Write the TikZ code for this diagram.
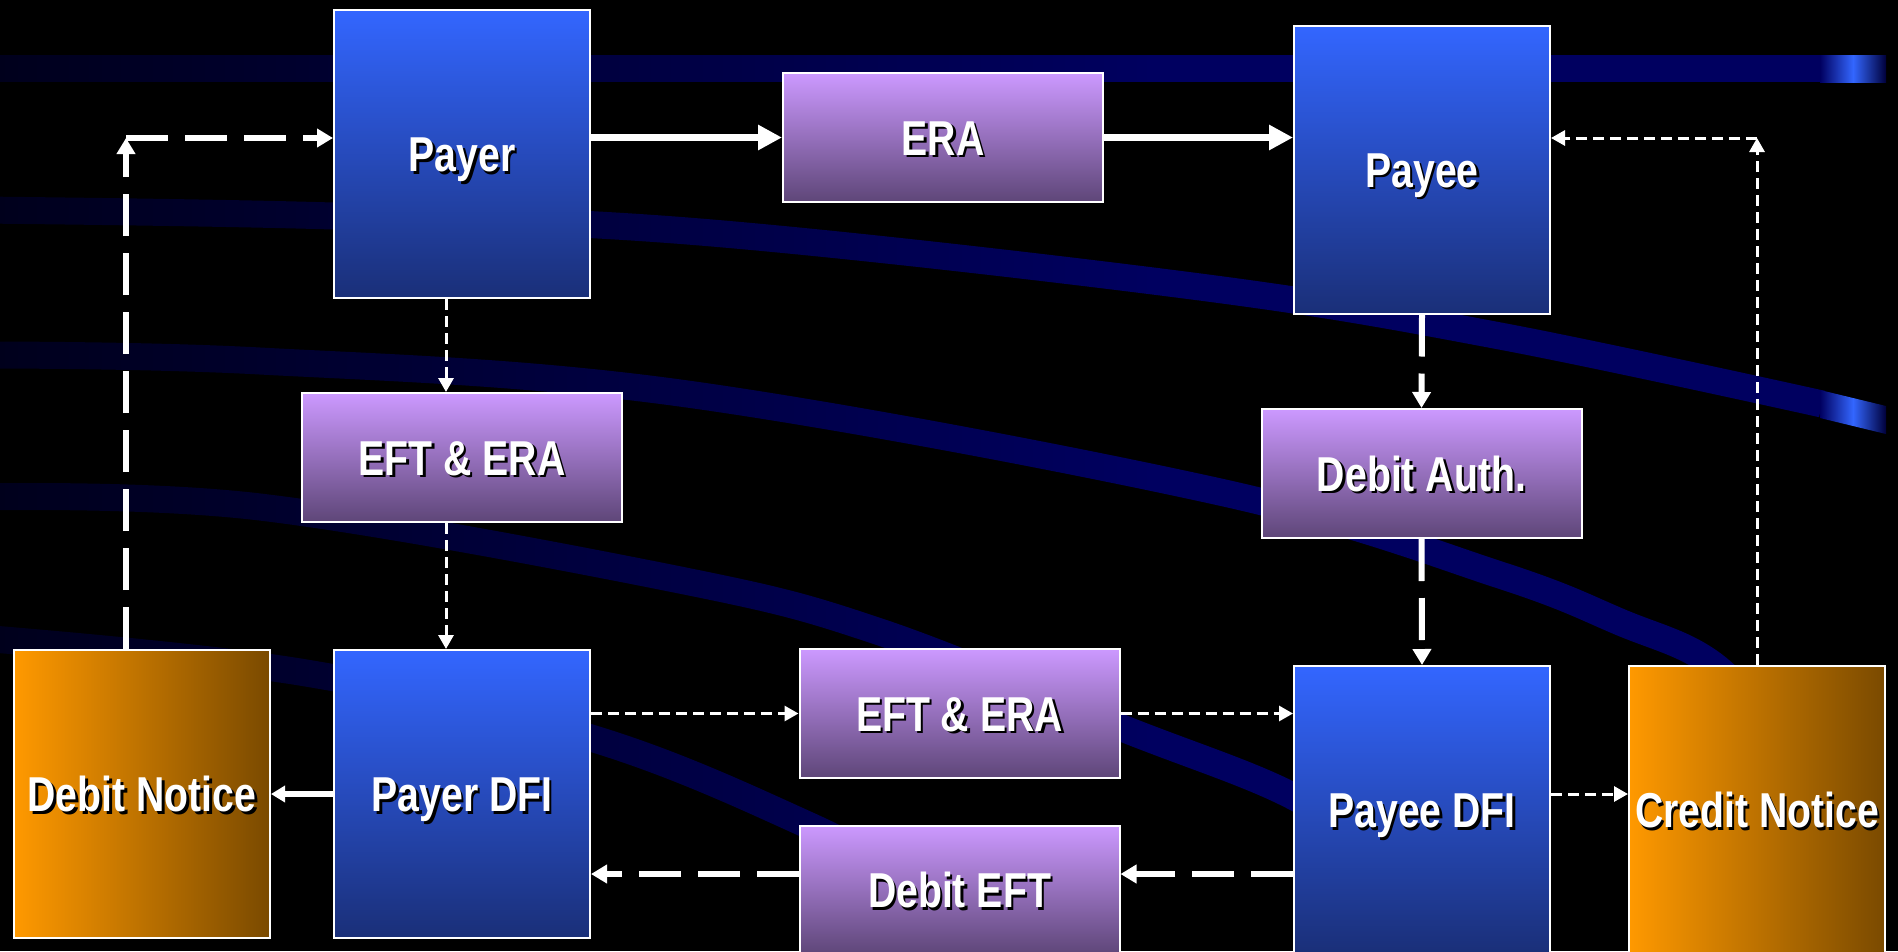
\documentclass[tikz,border=0pt]{standalone}
\usepackage{fontspec}
\usetikzlibrary{arrows.meta,fadings,calc}
\newfontfamily\boxfont[FakeStretch=0.8]{Liberation Sans}
\definecolor{bandnavy}{RGB}{0,0,96}
\definecolor{hiblue}{RGB}{51,102,255}
\definecolor{bTop}{RGB}{51,102,255}
\definecolor{bBot}{RGB}{26,47,120}
\definecolor{pTop}{RGB}{204,153,255}
\definecolor{pBot}{RGB}{94,70,120}
\definecolor{oL}{RGB}{255,153,0}
\definecolor{oR}{RGB}{122,74,0}
\tikzfading[name=fadeleft, left color=transparent!30, right color=transparent!100]
\newcommand\shtxt[1]{\makebox[0pt][l]{\hspace*{2.5pt}\raisebox{-2.5pt}{\color{black}#1}}#1}
\begin{document}
\begin{tikzpicture}[x=1pt,y=-1pt,
  band/.style={line width=27pt, bandnavy, line cap=butt},
  hilite/.style={left color=bandnavy, right color=bandnavy!60!black, middle color=hiblue},
  box/.style={draw=white, line width=2pt, inner sep=0pt, text=white,
    font=\boxfont\bfseries\fontsize{49pt}{55pt}\selectfont,
    text height=35pt, text depth=0pt},
  bluebox/.style={box, minimum width=256pt, minimum height=288pt, top color=bTop, bottom color=bBot},
  purplebox/.style={box, minimum width=320pt, minimum height=129pt, top color=pTop, bottom color=pBot},
  orangebox/.style={box, minimum width=256pt, minimum height=288pt, left color=oL, right color=oR},
  solidbig/.style={white, line width=7pt, -{Triangle[length=24pt,width=24pt]}},
  solidsmall/.style={white, line width=6pt, -{Triangle[length=14pt,width=16pt]}},
  longdash/.style={white, line width=6pt, dash pattern=on 42pt off 17pt, -{Triangle[length=16pt,width=18pt]}},
  shortdash/.style={white, line width=3pt, dash pattern=on 11pt off 6pt, -{Triangle[length=14pt,width=15pt]}}
]
\useasboundingbox (0,0) rectangle (1898,951);
\fill[black] (0,0) rectangle (1898,951);
\clip (0,0) rectangle (1898,951);

% background bands
\draw[band] (-20,68.5) -- (1822,68.5);
\draw[band] plot[smooth, tension=0.6] coordinates {(-20,210) (333,216) (700,232) (1200,287) (1500,336) (1822,404)};
\draw[band] plot[smooth, tension=0.6] coordinates {(-20,355) (260,361) (680,393) (1220,492) (1500,575) (1620,622) (1715,666) (1800,760)};
\draw[band] plot[smooth, tension=0.6] coordinates {(-20,497) (260,507) (680,580) (880,632) (1122,728) (1300,800) (1400,880)};
\draw[band] plot[smooth, tension=0.6] coordinates {(-20,638) (300,672) (591,738) (810,826) (950,900)};
\fill[black, path fading=fadeleft] (0,0) rectangle (1150,951);
\shade[hilite] (1820,55) rectangle (1886,82);
\shade[hilite] (1820,390) -- (1886,406) -- (1886,434) -- (1820,418) -- cycle;

% boxes
\node[bluebox] (Payer) at (462,154) {\shtxt{Payer}};
\node[purplebox] (ERA) at (943,137.5) {\shtxt{ERA}};
\node[bluebox] (Payee) at (1422,169.5) {\shtxt{Payee}};
\node[purplebox] (EFTa) at (462,457.5) {\shtxt{EFT \& ERA}};
\node[purplebox] (DebitAuth) at (1421.5,473.5) {\shtxt{Debit Auth.}};
\node[orangebox] (DebitNotice) at (142,794) {\shtxt{Debit Notice}};
\node[bluebox] (PayerDFI) at (462,794) {\shtxt{Payer DFI}};
\node[purplebox] (EFTb) at (959.5,713.5) {\shtxt{EFT \& ERA}};
\node[purplebox] (DebitEFT) at (959.5,890) {\shtxt{Debit EFT}};
\node[bluebox] (PayeeDFI) at (1422,810) {\shtxt{Payee DFI}};
\node[orangebox] (CreditNotice) at (1757,810) {\shtxt{Credit Notice}};

\coordinate (dc) at (126,138);
\coordinate (cc) at (1757,138);

% connectors
\draw[solidbig] (Payer.east |- ERA.west) -- (ERA.west);
\draw[solidbig] (ERA.east) -- (ERA.east -| Payee.west);
\draw[longdash] (dc |- DebitNotice.north) -- (dc);
\draw[longdash] (dc) -- (dc -| Payer.west);
\draw[shortdash] ([xshift=-16pt]Payer.south) -- ([xshift=-16pt]EFTa.north);
\draw[shortdash] ([xshift=-16pt]EFTa.south) -- ([xshift=-16pt]PayerDFI.north);
\draw[longdash] (Payee.south) -- (DebitAuth.north);
\draw[longdash] (DebitAuth.south) -- (PayeeDFI.north);
\draw[shortdash] (CreditNotice.north) -- (cc);
\draw[shortdash] (cc) -- (cc -| Payee.east);
\draw[shortdash] (PayerDFI.east |- EFTb.west) -- (EFTb.west);
\draw[shortdash] (EFTb.east) -- (EFTb.east -| PayeeDFI.west);
\draw[shortdash] ([yshift=16pt]PayeeDFI.east) -- ([yshift=16pt]PayeeDFI.east -| CreditNotice.west);
\draw[solidsmall] (PayerDFI.west) -- (DebitNotice.east);
\draw[longdash] ([yshift=16pt]DebitEFT.east -| PayeeDFI.west) -- ([yshift=16pt]DebitEFT.east);
\draw[longdash] ([yshift=16pt]DebitEFT.west) -- ([yshift=16pt]DebitEFT.west -| PayerDFI.east);
\end{tikzpicture}
\end{document}
